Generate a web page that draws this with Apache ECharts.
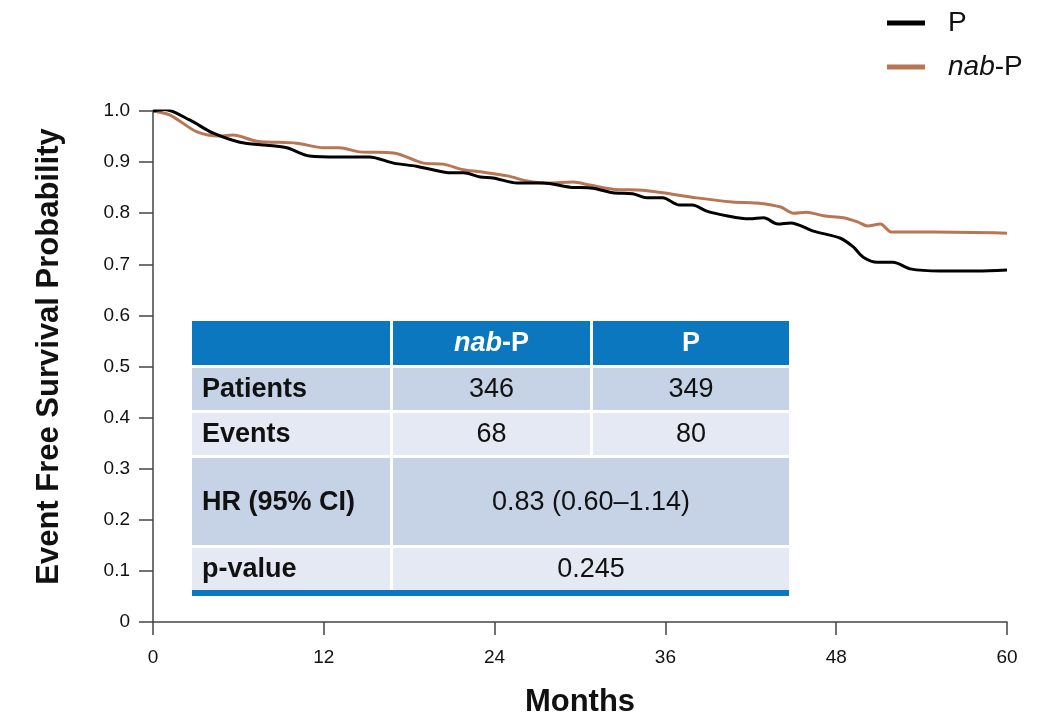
<!DOCTYPE html>
<html>
<head>
<meta charset="utf-8">
<script src="https://cdn.jsdelivr.net/npm/echarts@6/dist/echarts.min.js"></script>
<style>
  html, body { margin: 0; padding: 0; background: #fff; }
  #main { width: 1056px; height: 718px; }
</style>
</head>
<body>
<div id="main"></div>
<script>
// months and survival probability
var pTime = [0, 0.8, 2.6, 4.2, 6.1, 8.0, 9.4, 11.0, 13.1, 15.2, 16.9, 18.5, 19.5, 20.9, 21.8, 23.0, 23.9, 25.6, 27.4, 29.3, 30.9, 32.3, 33.7, 34.7, 35.8, 37.0, 37.9, 38.9, 40.3, 41.9, 42.9, 43.9, 44.8, 46.4, 48.3, 49.2, 49.9, 50.9, 52.0, 53.2, 55.3, 57.9, 60];
var pSurv = [1.0, 1.003, 0.982, 0.957, 0.939, 0.933, 0.928, 0.912, 0.910, 0.910, 0.898, 0.892, 0.886, 0.879, 0.879, 0.871, 0.869, 0.859, 0.859, 0.851, 0.849, 0.840, 0.838, 0.830, 0.830, 0.816, 0.816, 0.804, 0.795, 0.789, 0.791, 0.779, 0.781, 0.765, 0.751, 0.734, 0.714, 0.704, 0.704, 0.691, 0.687, 0.687, 0.689];

var nabTime = [0, 1.2, 3.1, 4.7, 5.6, 7.3, 10.1, 12.0, 13.1, 14.5, 16.9, 19.0, 20.4, 21.8, 23.0, 24.9, 26.3, 27.7, 29.5, 30.7, 32.3, 34.4, 35.8, 38.2, 40.7, 42.4, 44.1, 45.0, 45.9, 47.1, 48.5, 49.5, 50.2, 51.1, 51.9, 54.8, 60];
var nabSurv = [1.0, 0.992, 0.959, 0.951, 0.953, 0.941, 0.937, 0.928, 0.928, 0.920, 0.918, 0.898, 0.896, 0.885, 0.881, 0.873, 0.863, 0.859, 0.861, 0.855, 0.847, 0.845, 0.840, 0.830, 0.822, 0.820, 0.812, 0.800, 0.802, 0.795, 0.791, 0.783, 0.775, 0.779, 0.763, 0.763, 0.761];

var xTicks = [0, 12, 24, 36, 48, 60];

// summary table
var tableHeader = ['', 'nab-P', 'P'];
var rowLabels = ['Patients', 'Events', 'HR (95% CI)', 'p-value'];
var patients = ['346', '349'];
var events = ['68', '80'];
var hazardRatio = '0.83 (0.60\u20131.14)';
var pValue = '0.245';

function zip(a, b) {
    var out = [];
    for (var i = 0; i < a.length; i++) out.push([a[i], b[i]]);
    return out;
}

var FONT = 'Liberation Sans, Arial, sans-serif';
var BLUE = '#0a77be';
var ROW_DARK = '#c6d2e5';
var ROW_LIGHT = '#e5e9f3';
var TABLE_FS = 27;

// table geometry (pixels)
var tx = 192, colW = [198, 197, 196], gap = 3;
var rows = [
    { y: 321, h: 44, fill: BLUE },
    { y: 368, h: 42, fill: ROW_DARK },
    { y: 413, h: 42, fill: ROW_LIGHT },
    { y: 458, h: 87, fill: ROW_DARK },
    { y: 548, h: 42, fill: ROW_LIGHT }
];
var colX = [tx, tx + colW[0] + gap, tx + colW[0] + colW[1] + 2 * gap];
var tableW = colW[0] + colW[1] + colW[2] + 2 * gap;

var graphics = [];
function cell(x, y, w, h, fill) {
    graphics.push({ type: 'rect', shape: { x: x, y: y, width: w, height: h }, style: { fill: fill }, silent: true });
}
function label(x, y, txt, align, opts) {
    var st = {
        x: x, y: y, text: txt, align: align, verticalAlign: 'middle',
        font: (opts.bold ? 'bold ' : '') + TABLE_FS + 'px ' + FONT,
        fill: opts.color || '#111',
        rich: { i: { fontStyle: 'italic', fontWeight: 'bold', fontSize: TABLE_FS, fontFamily: FONT, fill: opts.color || '#111' } }
    };
    graphics.push({ type: 'text', style: st, silent: true, z: 10 });
}

// header row
cell(tx, rows[0].y, tableW, rows[0].h, BLUE);
graphics.push({ type: 'rect', shape: { x: colX[1] - gap, y: rows[0].y, width: gap, height: rows[0].h }, style: { fill: '#fff' }, silent: true, z: 5 });
graphics.push({ type: 'rect', shape: { x: colX[2] - gap, y: rows[0].y, width: gap, height: rows[0].h }, style: { fill: '#fff' }, silent: true, z: 5 });
label(colX[1] + colW[1] / 2, rows[0].y + rows[0].h / 2 + 1, '{i|nab}-P', 'center', { bold: true, color: '#fff' });
label(colX[2] + colW[2] / 2, rows[0].y + rows[0].h / 2 + 1, tableHeader[2], 'center', { bold: true, color: '#fff' });

// patients / events rows: three cells
[[rows[1], patients], [rows[2], events]].forEach(function (pair, k) {
    var r = pair[0];
    cell(colX[0], r.y, colW[0], r.h, r.fill);
    cell(colX[1], r.y, colW[1], r.h, r.fill);
    cell(colX[2], r.y, colW[2], r.h, r.fill);
    label(colX[0] + 10, r.y + r.h / 2 + 1, rowLabels[k], 'left', { bold: true });
    label(colX[1] + colW[1] / 2, r.y + r.h / 2 + 1, pair[1][0], 'center', {});
    label(colX[2] + colW[2] / 2, r.y + r.h / 2 + 1, pair[1][1], 'center', {});
});

// HR and p-value rows: merged value cell
[[rows[3], hazardRatio, 2], [rows[4], pValue, 3]].forEach(function (pair) {
    var r = pair[0];
    var mergedW = colW[1] + colW[2] + gap;
    cell(colX[0], r.y, colW[0], r.h, r.fill);
    cell(colX[1], r.y, mergedW, r.h, r.fill);
    label(colX[0] + 10, r.y + r.h / 2 + 1, rowLabels[pair[2]], 'left', { bold: true });
    label(colX[1] + mergedW / 2, r.y + r.h / 2 + 1, pair[1], 'center', {});
});
cell(tx, 590, tableW, 6, BLUE);

var chart = echarts.init(document.getElementById('main'));
var option = {
    animation: false,
    backgroundColor: '#fff',
    textStyle: { fontFamily: FONT },
    grid: { left: 153, right: 49, top: 111, bottom: 96, containLabel: false, outerBoundsMode: 'none' },
    legend: {
        data: ['P', 'nab-P'],
        orient: 'vertical',
        left: 882,
        top: 4,
        itemWidth: 38,
        itemHeight: 5,
        itemGap: 16,
        icon: 'rect',
        textStyle: {
            fontSize: 28, color: '#111', fontFamily: FONT, padding: [0, 0, 0, 18],
            rich: { i: { fontStyle: 'italic', fontSize: 28, fontFamily: FONT, color: '#111' } }
        },
        formatter: function (name) {
            return name === 'nab-P' ? '{i|nab}-P' : name;
        }
    },
    xAxis: {
        type: 'value',
        min: 0, max: 60, interval: 12,
        name: 'Months',
        nameLocation: 'middle',
        nameGap: 65,
        nameTextStyle: { fontSize: 31, fontWeight: 'bold', color: '#111', fontFamily: FONT },
        axisLine: { lineStyle: { color: '#444', width: 1.5 } },
        axisTick: { length: 13, lineStyle: { color: '#444', width: 1.5 } },
        axisLabel: {
            margin: 26, fontSize: 19, color: '#111',
            formatter: function (v) { return xTicks.indexOf(v) >= 0 ? String(v) : ''; }
        },
        splitLine: { show: false }
    },
    yAxis: {
        type: 'value',
        min: 0, max: 1, interval: 0.1,
        name: 'Event Free Survival Probability',
        nameLocation: 'middle',
        nameGap: 88,
        nameRotate: 90,
        nameTextStyle: { fontSize: 31, fontWeight: 'bold', color: '#111', fontFamily: FONT, padding: [0, 0, 0, 20] },
        axisLine: { show: true, lineStyle: { color: '#444', width: 1.5 } },
        axisTick: { show: true, length: 14, lineStyle: { color: '#444', width: 1.5 } },
        axisLabel: {
            margin: 23, fontSize: 19, color: '#111',
            formatter: function (v) { return v === 0 ? '0' : v.toFixed(1); }
        },
        splitLine: { show: false }
    },
    series: [
        {
            name: 'nab-P',
            type: 'line',
            data: zip(nabTime, nabSurv),
            smooth: 0.3,
            showSymbol: false,
            symbol: 'none',
            color: '#b87654',
            lineStyle: { color: '#b87654', width: 3 },
            z: 2
        },
        {
            name: 'P',
            type: 'line',
            data: zip(pTime, pSurv),
            smooth: 0.3,
            showSymbol: false,
            symbol: 'none',
            color: '#000',
            lineStyle: { color: '#000', width: 3 },
            z: 3
        }
    ],
    graphic: graphics
};
chart.setOption(option);
</script>
</body>
</html>
